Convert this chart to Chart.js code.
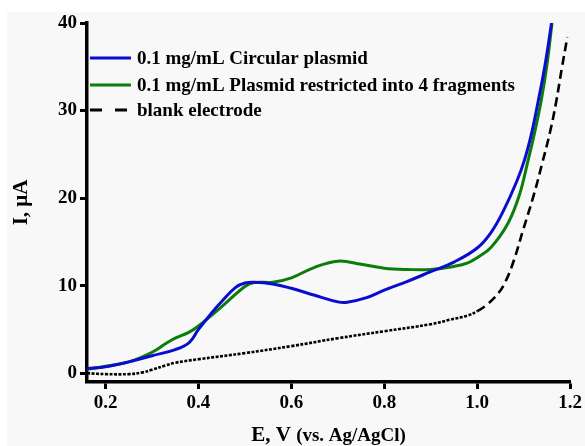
<!DOCTYPE html>
<html>
<head>
<meta charset="utf-8">
<script src="https://cdn.jsdelivr.net/npm/chart.js@4/dist/chart.umd.min.js"></script>
<style>
  html, body { margin: 0; padding: 0; background: #ffffff; }
  #c { display: block; }
</style>
</head>
<body>
<canvas id="c" width="585" height="446"></canvas>
<script>
// ---- data ----
const seriesLabels = [
  '0.1 mg/mL Circular plasmid',
  '0.1 mg/mL Plasmid restricted into 4 fragments',
  'blank electrode'
];

const circularE = [0.16, 0.20, 0.25, 0.30, 0.35, 0.38, 0.40, 0.43, 0.45, 0.48, 0.50, 0.52, 0.56, 0.60, 0.65, 0.70, 0.72, 0.76, 0.80, 0.85, 0.90, 0.95, 1.00, 1.03, 1.055, 1.085, 1.102, 1.117, 1.131, 1.146, 1.16];
const circularI = [0.55, 0.75, 1.3, 2.0, 2.7, 3.5, 5.0, 7.0, 8.2, 9.8, 10.3, 10.4, 10.2, 9.7, 8.9, 8.15, 8.1, 8.6, 9.5, 10.5, 11.6, 12.7, 14.3, 16.1, 18.4, 21.9, 24.4, 27.4, 31.0, 35.2, 40.0];

const restrictedE = [0.16, 0.20, 0.25, 0.30, 0.33, 0.35, 0.38, 0.40, 0.45, 0.50, 0.52, 0.56, 0.60, 0.65, 0.70, 0.75, 0.80, 0.85, 0.90, 0.95, 0.98, 1.00, 1.03, 1.066, 1.091, 1.109, 1.124, 1.138, 1.150, 1.161];
const restrictedI = [0.45, 0.8, 1.3, 2.4, 3.4, 4.0, 4.7, 5.4, 7.6, 9.9, 10.35, 10.4, 10.9, 12.1, 12.8, 12.45, 12.0, 11.85, 11.85, 12.2, 12.6, 13.2, 14.4, 17.1, 20.4, 24.2, 27.6, 31.2, 35.2, 40.0];

const blankE = [0.16, 0.20, 0.25, 0.28, 0.30, 0.33, 0.35, 0.40, 0.50, 0.60, 0.70, 0.80, 0.90, 0.94, 0.98, 1.00, 1.02, 1.045, 1.062, 1.079, 1.099, 1.122, 1.14, 1.157, 1.17, 1.182, 1.194];
const blankI = [0.0, -0.1, -0.1, 0.1, 0.4, 0.9, 1.2, 1.6, 2.3, 3.1, 4.0, 4.8, 5.6, 6.1, 6.6, 7.1, 7.8, 9.1, 10.6, 12.9, 16.4, 20.4, 24.0, 27.6, 31.0, 34.8, 38.4];

const xTickValues = [0.2, 0.4, 0.6, 0.8, 1.0, 1.2];
const yTickValues = [0, 10, 20, 30, 40];

const seriesColors = ['#0c0cd0', '#0a7d0a', '#000000'];

// ---- helpers ----
const toPoints = (xs, ys) => xs.map((x, i) => ({ x: x, y: ys[i] }));
const SERIF = '"Liberation Serif", "Times New Roman", serif';

const bgPlugin = {
  id: 'bg',
  beforeDraw(chart) {
    const ctx = chart.ctx;
    ctx.save();
    ctx.fillStyle = '#ffffff';
    ctx.fillRect(0, 0, chart.width, chart.height);
    ctx.fillStyle = '#f8f8f8';
    ctx.fillRect(7, 12, chart.width - 7, chart.height - 12);
    ctx.restore();
  }
};

const legendPlugin = {
  id: 'customLegend',
  afterDraw(chart) {
    const ctx = chart.ctx;
    const a = chart.chartArea;
    const offsets = [35, 62, 87];
    ctx.save();
    ctx.font = 'bold 19px ' + SERIF;
    ctx.textBaseline = 'middle';
    ctx.textAlign = 'left';
    chart.data.datasets.forEach((ds, i) => {
      const y = a.top + offsets[i];
      const x0 = a.left + 3;
      ctx.beginPath();
      ctx.strokeStyle = ds.borderColor;
      ctx.lineWidth = 3;
      ctx.setLineDash(i === 2 ? [12, 13] : []);
      ctx.moveTo(x0, y);
      ctx.lineTo(x0 + 41, y);
      ctx.stroke();
      ctx.setLineDash([]);
      ctx.fillStyle = '#000';
      ctx.fillText(ds.label, x0 + 47, y + 1);
    });
    ctx.restore();
  }
};

const xTitlePlugin = {
  id: 'xTitle',
  afterDraw(chart) {
    const ctx = chart.ctx;
    const a = chart.chartArea;
    const p1 = 'E, V ';
    const p2 = '(vs. Ag/AgCl)';
    ctx.save();
    ctx.fillStyle = '#000';
    ctx.textBaseline = 'alphabetic';
    ctx.textAlign = 'left';
    const f1 = 'bold 21px ' + SERIF;
    const f2 = 'bold 19px ' + SERIF;
    ctx.font = f1; const w1 = ctx.measureText(p1).width;
    ctx.font = f2; const w2 = ctx.measureText(p2).width;
    const cx = (a.left + a.right) / 2;
    const x = cx - (w1 + w2) / 2;
    ctx.font = f1; ctx.fillText(p1, x, 441);
    ctx.font = f2; ctx.fillText(p2, x + w1, 441);
    ctx.restore();
  }
};

new Chart(document.getElementById('c'), {
  type: 'line',
  data: {
    datasets: [
      {
        label: seriesLabels[0],
        data: toPoints(circularE, circularI),
        borderColor: seriesColors[0],
        borderWidth: 3,
        pointRadius: 0,
        tension: 0.4,
        fill: false
      },
      {
        label: seriesLabels[1],
        data: toPoints(restrictedE, restrictedI),
        borderColor: seriesColors[1],
        borderWidth: 3,
        pointRadius: 0,
        tension: 0.4,
        fill: false
      },
      {
        label: seriesLabels[2],
        data: toPoints(blankE, blankI),
        borderColor: seriesColors[2],
        borderWidth: 2.6,
        borderDash: [9, 5],
        segment: {
          borderDash: ctx => (ctx.p0.parsed.x < 1.0 ? [3, 1.5] : [9, 5])
        },
        pointRadius: 0,
        tension: 0.4,
        fill: false
      }
    ]
  },
  options: {
    responsive: false,
    animation: false,
    devicePixelRatio: 1,
    layout: { padding: { left: 0, top: 23, right: 8, bottom: 0 } },
    plugins: {
      legend: { display: false },
      tooltip: { enabled: false }
    },
    scales: {
      x: {
        type: 'linear',
        min: 0.16,
        max: 1.2,
        afterBuildTicks(scale) { scale.ticks = xTickValues.map(v => ({ value: v })); },
        afterFit(scale) { scale.height = 64; },
        border: { display: true, color: '#000', width: 3.5 },
        grid: { drawOnChartArea: false, drawTicks: true, tickLength: 7, tickWidth: 3, tickColor: '#000', color: '#000' },
        ticks: {
          color: '#000',
          padding: 3,
          maxRotation: 0,
          font: { family: SERIF, size: 19, weight: 'bold' },
          callback: v => v.toFixed(1)
        },
        title: { display: false }
      },
      y: {
        type: 'linear',
        min: -1,
        max: 40,
        afterBuildTicks(scale) { scale.ticks = yTickValues.map(v => ({ value: v })); },
        afterFit(scale) { scale.width = 87; },
        border: { display: true, color: '#000', width: 3.5 },
        grid: { drawOnChartArea: false, drawTicks: true, tickLength: 7, tickWidth: 3, tickColor: '#000', color: '#000' },
        ticks: {
          color: '#000',
          padding: 3,
          font: { family: SERIF, size: 19, weight: 'bold' },
          callback: v => String(v)
        },
        title: {
          display: true,
          text: 'I, μA',
          color: '#000',
          padding: { top: 9, bottom: 0 },
          font: { family: SERIF, size: 21, weight: 'bold' }
        }
      }
    }
  },
  plugins: [bgPlugin, legendPlugin, xTitlePlugin]
});
</script>
</body>
</html>
